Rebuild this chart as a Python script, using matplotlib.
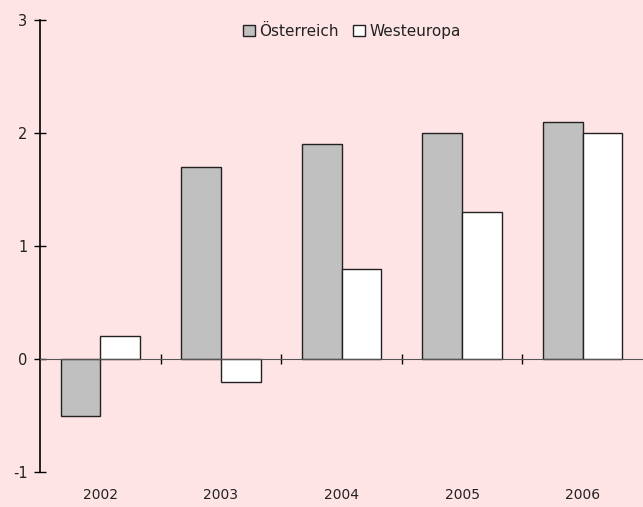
import numpy as np
import matplotlib.pyplot as plt
from matplotlib.transforms import blended_transform_factory

# data
years = ['2002', '2003', '2004', '2005', '2006']
oesterreich = [-0.5, 1.7, 1.9, 2.0, 2.1]
westeuropa = [0.2, -0.2, 0.8, 1.3, 2.0]
yticks = [-1, 0, 1, 2, 3]

bg = '#FFE4E6'
plt.rcParams.update({
    "font.family": "DejaVu Sans",
    "font.size": 10,
    "text.color": "#222222",
})

fig = plt.figure(figsize=(6.43, 5.07), dpi=100, facecolor=bg)
ax = fig.add_axes([40 / 643, 35 / 507, 603 / 643, 452 / 507], facecolor=bg)

x = np.arange(len(years))
w = 0.33
ax.bar(x - w / 2, oesterreich, w, color='#C0C0C0', edgecolor='#222222',
       linewidth=1, label='Österreich')
ax.bar(x + w / 2, westeuropa, w, color='white', edgecolor='#222222',
       linewidth=1, label='Westeuropa')

ax.set_xlim(-0.5, len(years) - 0.5)
ax.set_ylim(-1, 3)

for s in ['top', 'right']:
    ax.spines[s].set_visible(False)
ax.spines['bottom'].set_position(('data', 0))
ax.spines['bottom'].set_color('#555555')
ax.spines['left'].set_linewidth(1.2)

ax.set_yticks(yticks)
ax.set_yticklabels([str(v) for v in yticks])
ax.tick_params(axis='y', direction='inout', length=8, width=1, pad=5,
               labelsize=10.5, labelcolor='#222222')
ax.set_xticks(x[:-1] + 0.5)
ax.set_xticklabels([])
ax.tick_params(axis='x', direction='inout', length=7, width=1)

tr = blended_transform_factory(ax.transData, ax.transAxes)
for xi, lab in zip(x, years):
    ax.text(xi, -0.035, lab, transform=tr, ha='center', va='top', fontsize=10)

ax.legend(loc='upper center', bbox_to_anchor=(0.517, 1.022), ncol=2,
          frameon=False, handlelength=0.8, handleheight=0.8,
          handletextpad=0.3, columnspacing=0.9, fontsize=11)

fig.savefig('out.png', dpi=100, facecolor=bg)
